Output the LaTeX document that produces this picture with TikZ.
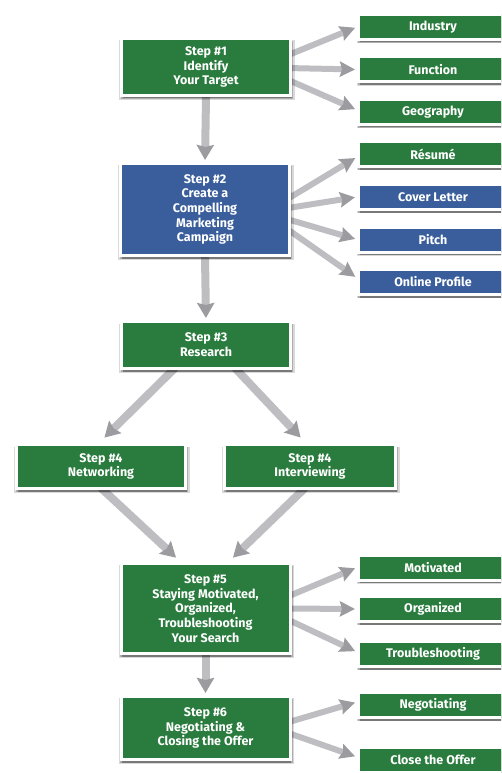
\documentclass[tikz,border=0pt]{standalone}
\usepackage{fontspec}
\setmainfont{Fira Sans}
\usetikzlibrary{arrows.meta,shadows,backgrounds,calc}
\definecolor{sgreen}{RGB}{42,124,62}
\definecolor{sblue}{RGB}{58,94,156}
\definecolor{agray}{RGB}{190,190,194}
\definecolor{ahead}{RGB}{155,155,160}
\begin{document}
\begin{tikzpicture}[x=1pt,y=-1pt,
  boxshadow/.style={drop shadow={shadow xshift=1pt,shadow yshift=-3pt,shadow scale=1.04,opacity=.15,fill=black},
                    drop shadow={shadow xshift=1pt,shadow yshift=-3pt,shadow scale=1.02,opacity=.2,fill=black},
                    drop shadow={shadow xshift=1pt,shadow yshift=-3pt,opacity=.3,fill=black}},
  stepbox/.style={draw=white,line width=3pt,fill=sgreen,text=white,align=center,
    font=\bfseries\fontsize{12.5}{14.7}\selectfont,minimum width=169pt,inner sep=0pt,boxshadow},
  subbox/.style={stepbox,minimum width=149pt,minimum height=25pt},
  sidearrow/.style={line width=6pt,draw=agray,-{Stealth[length=15pt,width=15pt,inset=2pt,color=ahead]},shorten >=2pt},
  downarrow/.style={line width=8pt,draw=agray,-{Stealth[length=15pt,width=17pt,inset=2pt,color=ahead]},shorten >=2pt}]
\useasboundingbox (0,0) rectangle (501,773);
\clip (0,0) rectangle (501,773);

% main steps
\node[stepbox,minimum height=57pt] (s1) at (206,67) {Step \#1\\Identify\\Your Target};
\node[stepbox,fill=sblue,minimum height=92pt] (s2) at (205,209.5) {Step \#2\\Create a\\Compelling\\Marketing\\Campaign};
\node[stepbox,minimum height=47pt] (s3) at (206,345) {Step \#3\\Research};
\node[stepbox,minimum height=44pt] (net) at (101,466.5) {Step \#4\\Networking};
\node[stepbox,minimum height=44pt,minimum width=171pt] (int) at (310,466.5) {Step \#4\\Interviewing};
\node[stepbox,minimum height=90pt] (s5) at (205.5,608.5) {Step \#5\\Staying Motivated,\\Organized,\\Troubleshooting\\Your Search};
\node[stepbox,minimum height=63pt] (s6) at (205.5,728) {Step \#6\\Negotiating \&\\Closing the Offer};

% side boxes
\node[subbox] (ind) at (433,27) {Industry};
\node[subbox] (fun) at (433,69.5) {Function};
\node[subbox] (geo) at (433,112) {Geography};
\node[subbox] (res) at (433,154) {Résumé};
\node[subbox,fill=sblue] (cov) at (433,197) {Cover Letter};
\node[subbox,fill=sblue] (pit) at (433,239.5) {Pitch};
\node[subbox,fill=sblue] (onl) at (433,282) {Online Profile};
\node[subbox] (mot) at (433,567.5) {Motivated};
\node[subbox] (org) at (433,609) {Organized};
\node[subbox] (tro) at (433,654) {Troubleshooting};
\node[subbox] (neg) at (433,705) {Negotiating};
\node[subbox] (clo) at (433,760) {Close the Offer};

\begin{scope}[on background layer]
\fill[white] (0,0) rectangle (501,773);
% step 1
\draw[sidearrow] ($(s1.east)+(-6,-11)$) -- (ind.west);
\draw[sidearrow] ($(s1.east)+(-6,1)$) -- (fun.west);
\draw[sidearrow] ($(s1.east)+(-6,12)$) -- ($(geo.west)+(0,-2)$);
\draw[downarrow] (s1.south) -- (s2.north);
% step 2
\draw[sidearrow] ($(s2.east)+(-6,-9)$) -- ($(res.west)+(0,3)$);
\draw[sidearrow] ($(s2.east)+(-6,-1)$) -- (cov.west);
\draw[sidearrow] ($(s2.east)+(-6,9)$) -- (pit.west);
\draw[sidearrow] ($(s2.east)+(-6,18)$) -- ($(onl.west)+(0,-4)$);
\draw[downarrow] (s2.south) -- (s3.north);
% step 3
\draw[downarrow] ($(s3.south)+(-31,-2)$) -- ($(net.north)+(2,-4)$);
\draw[downarrow] ($(s3.south)+(29,-2)$) -- ($(int.north)+(-8,-4)$);
% step 4
\draw[downarrow] ($(net.south)+(0,-2)$) -- ($(s5.north)+(-28,-3)$);
\draw[downarrow] ($(int.south)+(-5,-2)$) -- ($(s5.north)+(26,-3)$);
% step 5
\draw[sidearrow] ($(s5.east)+(-6,-11)$) -- (mot.west);
\draw[sidearrow] ($(s5.east)+(-6,0)$) -- (org.west);
\draw[sidearrow] ($(s5.east)+(-6,10)$) -- ($(tro.west)+(0,-2)$);
\draw[downarrow] (s5.south) -- (s6.north);
% step 6
\draw[sidearrow] ($(s6.east)+(-6,-5)$) -- ($(neg.west)+(0,-3)$);
\draw[sidearrow] ($(s6.east)+(-6,4)$) -- ($(clo.west)+(0,-3)$);
\end{scope}
\end{tikzpicture}
\end{document}
